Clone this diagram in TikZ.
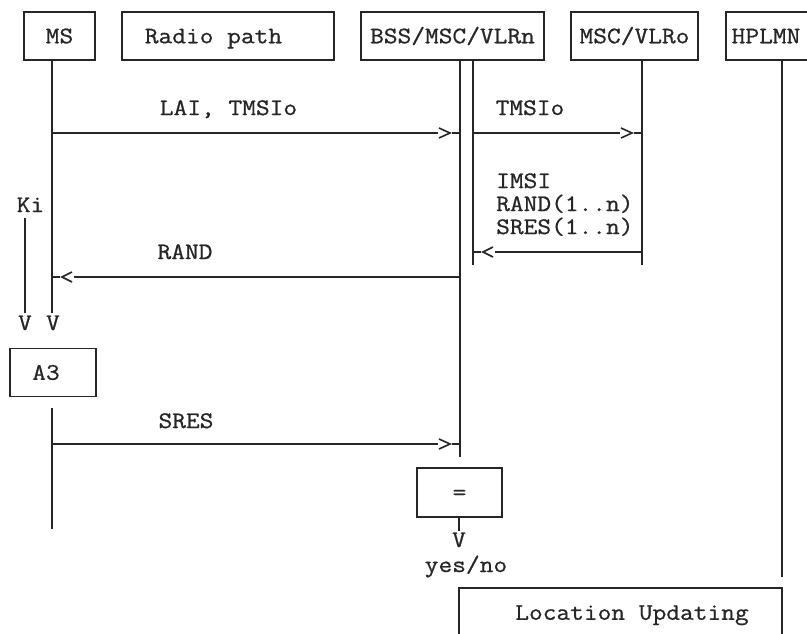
\documentclass[tikz,border=0pt]{standalone}
\usepackage{fontspec}
\newfontfamily\courfont[FakeStretch=1.125,FakeBold=0.8]{Latin Modern Mono}
\usetikzlibrary{calc}
\begin{document}
\begin{tikzpicture}[x=1pt,y=-1pt,
  every node/.style={font=\courfont\fontsize{23.7}{23}\selectfont, inner sep=0pt, text=black!85},
  ln/.style={line width=1.6pt, draw=black!85},
  box/.style={draw=black!85, line width=1.6pt, text height=14.5pt, text depth=0pt, minimum height=48pt},
  txt/.style={anchor=base},
  rchev/.pic={\draw[ln] (-11,-5) -- (0,0) -- (-11,5);},
  lchev/.pic={\draw[ln] (10,-5) -- (0,0) -- (10,5);}
]
\useasboundingbox (0,0) rectangle (807,633);
\clip (0,0) rectangle (807,633);
\fill[white] (0,0) rectangle (807,633);

% boxes
\node[box, minimum width=71pt]  (ms)     at (59.5,36)  {MS};
\node[box, minimum width=212pt] (radio)  at (228,36)   {Radio path\hspace*{29pt}};
\node[box, minimum width=183pt] (bss)    at (452.5,36) {BSS/MSC/VLRn};
\node[box, minimum width=127pt] (vlro)   at (634.5,36) {MSC/VLRo};
\node[box, minimum width=86pt]  (hplmn)  at (769,36)   {HPLMN\hspace*{6pt}};
\node[box, minimum width=86pt]  (a3)     at (53,372.5) {A3\hspace*{14pt}};
\node[box, minimum width=85pt, minimum height=49pt]  (eq) at (459.5,492.5) {=};
\node[box, minimum width=323pt, minimum height=49pt] (locupd) at (620.5,612.5) {\hspace*{23pt}Location Updating};

% texts
\node[txt] (lai)   at (228.5,115) {LAI, TMSIo};
\node[txt] (tmsi)  at (530,115)   {TMSIo};
\node[txt, anchor=base west] (imsi)  at (496,188) {IMSI};
\node[txt, anchor=base west] (randn) at (496,211) {RAND(1..n)};
\node[txt, anchor=base west] (sresn) at (496,234) {SRES(1..n)};
\node[txt] (rand)  at (185,259)   {RAND};
\node[txt] (ki)    at (30.5,212)  {Ki};
\node[txt] (v1)    at (25,330)    {V};
\node[txt] (v2)    at (53,330)    {V};
\node[txt] (sres)  at (186,428)   {SRES};
\node[txt] (v3)    at (459,547)   {V};
\node[txt] (yn)    at (466,572)   {yes/no};

% lifeline coordinates
\coordinate (msT)  at (52,60);   \coordinate (msV)  at (52,313);
\coordinate (kiT)  at (25,218);  \coordinate (kiV)  at (25,313);
\coordinate (msB1) at (52,408);  \coordinate (msB2) at (52,529);
\coordinate (bsL1) at (460,60);  \coordinate (bsL2) at (460,457);
\coordinate (bsR1) at (473,60);  \coordinate (bsR2) at (473,265);
\coordinate (voT)  at (642,60);  \coordinate (voB)  at (642,265);
\coordinate (hpT)  at (782,60);  \coordinate (hpB)  at (782,577);
\coordinate (eqV)  at (459,531);

\draw[ln] (msT) -- (msV);
\draw[ln] (kiT) -- (kiV);
\draw[ln] (msB1) -- (msB2);
\draw[ln] (bsL1) -- (bsL2);
\draw[ln] (bsR1) -- (bsR2);
\draw[ln] (voT) -- (voB);
\draw[ln] (hpT) -- (hpB);
\draw[ln] (eq.south -| eqV) -- (eqV);

% messages
\newcommand\rmsg[2]{%
  \draw[ln] (#1) -- ($(#2)+(-22,0)$);
  \pic at ($(#2)+(-10,0)$) {rchev};
  \draw[ln] ($(#2)+(-8,0)$) -- (#2);}
\newcommand\lmsg[2]{%
  \draw[ln] (#1) -- ($(#2)+(22,0)$);
  \pic at ($(#2)+(10,0)$) {lchev};
  \draw[ln] ($(#2)+(8,0)$) -- (#2);}

\coordinate (m1a) at (52,133);  \coordinate (m1b) at (460,133);
\coordinate (m2a) at (473,133); \coordinate (m2b) at (642,133);
\coordinate (m3a) at (642,252); \coordinate (m3b) at (473,252);
\coordinate (m4a) at (460,277); \coordinate (m4b) at (52,277);
\coordinate (m5a) at (52,444);  \coordinate (m5b) at (460,444);

\rmsg{m1a}{m1b}
\rmsg{m2a}{m2b}
\lmsg{m3a}{m3b}
\lmsg{m4a}{m4b}
\rmsg{m5a}{m5b}
\end{tikzpicture}
\end{document}
